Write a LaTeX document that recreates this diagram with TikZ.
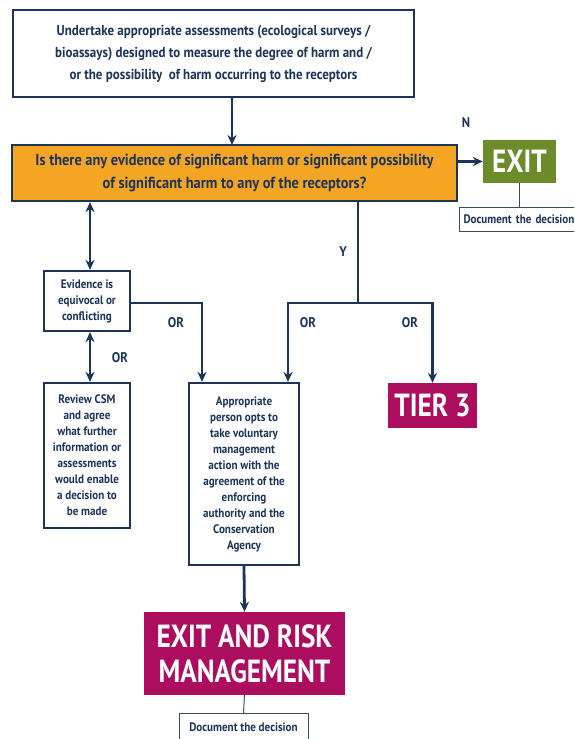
\documentclass[tikz,border=0pt]{standalone}
\usepackage{fontspec}
\setmainfont{PT Sans}[FakeStretch=0.9]
\newfontfamily\condfont{PT Sans}[FakeStretch=0.85]
\usetikzlibrary{arrows.meta}
\definecolor{navy}{RGB}{28,52,90}
\definecolor{qorange}{RGB}{245,165,36}
\definecolor{exitgreen}{RGB}{108,139,42}
\definecolor{tiermag}{RGB}{173,13,94}
\tikzset{
  box/.style={draw=navy, line width=2.2pt, fill=white, text=navy, align=center, inner sep=0pt},
  smalltxt/.style={font=\bfseries\fontsize{12.3}{16}\selectfont},
  bigbox/.style={draw=none, text=white, align=center, inner sep=0pt, font=\condfont\bfseries\fontsize{32}{35}\selectfont},
  docbox/.style={draw=navy!70!gray, line width=1pt, fill=white, text=navy, inner sep=0pt, font=\bfseries\fontsize{12.3}{13}\selectfont},
  flow/.style={draw=navy, line width=2.8pt, -{Stealth[length=10pt,width=9pt]}},
  bothflow/.style={draw=navy, line width=2.8pt, {Stealth[length=10pt,width=9pt]}-{Stealth[length=10pt,width=9pt]}},
  plain/.style={draw=navy, line width=2.8pt},
  thin/.style={draw=navy!70!gray, line width=1pt},
  lbl/.style={text=navy, font=\bfseries\fontsize{14}{14}\selectfont, inner sep=0pt}
}
\begin{document}
\begin{tikzpicture}[x=1pt,y=-1pt]
\useasboundingbox (0,0) rectangle (574,739);
\clip (0,0) rectangle (574,739);
\fill[white] (0,0) rectangle (574,739);
% nodes
\node[box, minimum width=401pt, minimum height=87pt, font=\bfseries\fontsize{14.4}{22}\selectfont] (top) at (213.5,53.5)
  {Undertake appropriate assessments (ecological surveys /\\bioassays) designed to measure the degree of harm and /\\or the possibility\ \ of harm occurring to the receptors};
\node[box, fill=qorange, minimum width=445pt, minimum height=56pt, font=\bfseries\fontsize{16}{23}\selectfont] (q) at (234.5,173)
  {Is there any evidence of significant harm or significant possibility\\of significant harm to any of the receptors?};
\node[bigbox, fill=exitgreen, minimum width=73pt, minimum height=43pt] (exit) at (519.5,161.5) {EXIT};
\node[docbox, minimum width=131pt, minimum height=24pt, anchor=west, text width=127pt, align=left] (doc1) at (459,219) {\hspace*{2pt}Document the decision};
\node[box, smalltxt, minimum width=86pt, minimum height=60pt] (ev) at (87,301)
  {Evidence is\\equivocal or\\conflicting};
\node[box, smalltxt, minimum width=86pt, minimum height=145pt] (rev) at (87,455.5)
  {Review CSM\\and agree\\what further\\information or\\assessments\\would enable\\a decision to\\be made};
\node[box, smalltxt, minimum width=110pt, minimum height=182pt] (app) at (244,474)
  {Appropriate\\person opts to\\take voluntary\\management\\action with the\\agreement of the\\enforcing\\authority and the\\Conservation\\Agency};
\node[bigbox, fill=tiermag, minimum width=89pt, minimum height=45pt] (tier) at (432.5,405.5) {TIER 3};
\node[bigbox, fill=tiermag, minimum width=201pt, minimum height=83pt] (erm) at (244.5,653.5) {EXIT AND RISK\\MANAGEMENT};
\node[docbox, minimum width=129pt, minimum height=32pt, anchor=north] (doc2) at (243.5,713) {};
\node[text=navy, font=\bfseries\fontsize{12.3}{13}\selectfont, inner sep=0pt] (doc2t) at (243.5,727) {Document the decision};
% coordinates
\coordinate (topout) at (232,97);
\coordinate (qtop) at (232,145);
\coordinate (evx) at (90,0);
\coordinate (ybr) at (358,303);
\coordinate (ojoin) at (202,303);
% connectors
\draw[flow] (topout) -- (qtop);
\draw[flow] (q.east |- exit.west) -- (exit.west);
\draw[thin] (exit.south) -- (doc1.north -| exit.south);
\draw[bothflow] (q.south -| evx) -- (ev.north -| evx);
\draw[bothflow] (ev.south -| evx) -- (rev.north -| evx);
\draw[flow] (ev.east |- ojoin) -- (ojoin) -- (app.north -| ojoin);
\draw[plain] (q.south -| ybr) -- (ybr);
\draw[flow] (ybr) -| (app.north -| 288,0);
\draw[flow] (ybr) -| (tier.north);
\draw[flow] (app.south) -- (erm.north);
\draw[thin] (erm.south) -- (doc2.north);
% labels
\node[lbl] (ln) at (466,123) {N};
\node[lbl] (ly) at (343,252) {Y};
\node[lbl] (lor1) at (176,323) {OR};
\node[lbl] (lor2) at (308,323) {OR};
\node[lbl] (lor3) at (410,323) {OR};
\node[lbl] (lor4) at (120,358) {OR};
\end{tikzpicture}
\end{document}
